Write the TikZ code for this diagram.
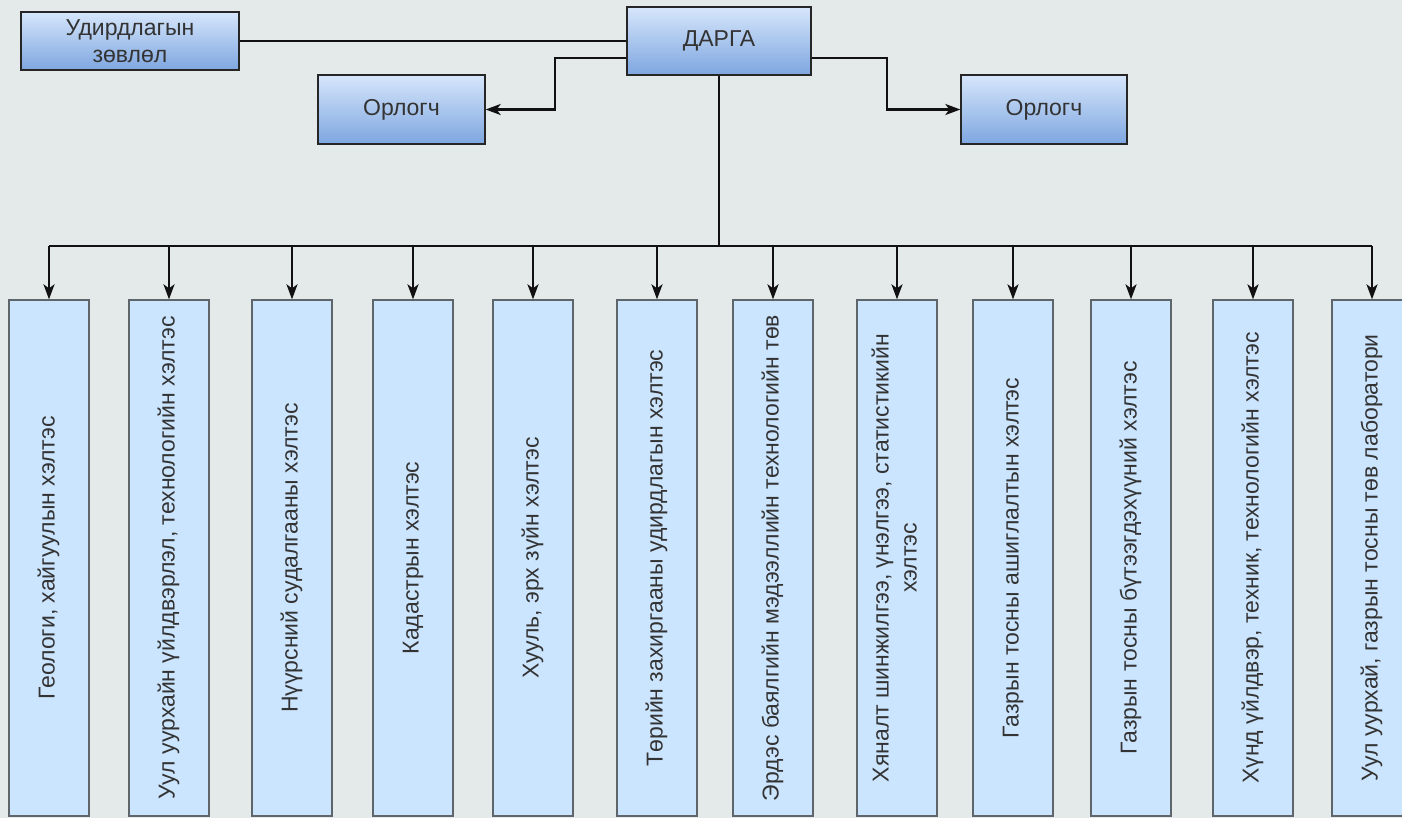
\documentclass[tikz,border=0pt]{standalone}
\usepackage{fontspec}
\setmainfont{Liberation Sans}
\usetikzlibrary{arrows.meta,calc}
\definecolor{bg}{HTML}{E4E9E9}
\definecolor{gtop}{HTML}{D6E6FB}
\definecolor{gbot}{HTML}{7EA6E0}
\definecolor{unitfill}{HTML}{CCE5FF}
\definecolor{unitdraw}{HTML}{5E666B}
\definecolor{txt}{HTML}{333333}
\definecolor{ln}{HTML}{111111}
\tikzset{
  topbox/.style={draw=black!85, line width=1.3pt, top color=gtop, bottom color=gbot,
    text=txt, align=center, inner sep=0pt, font=\fontsize{23}{27}\selectfont},
  unitbox/.style={draw=unitdraw, line width=1.3pt, fill=unitfill, text=txt,
    minimum width=80pt, minimum height=516pt, inner sep=0pt,
    font=\fontsize{23}{28}\selectfont},
  conn/.style={draw=ln, line width=2.2pt},
  arr/.style={conn, -{Stealth[length=15pt,width=11pt,inset=4pt]}}
}
\newcommand{\vtext}[1]{\rotatebox{90}{\begin{tabular}{@{}c@{}}#1\end{tabular}}}
\begin{document}
\begin{tikzpicture}[x=1pt,y=-1pt]
\useasboundingbox (0,0) rectangle (1402,818);
\clip (0,0) rectangle (1402,818);
\fill[bg] (0,0) rectangle (1402,818);

\node[topbox, minimum width=218pt, minimum height=58pt] (council) at (130,41) {Удирдлагын\\зөвлөл};
\node[topbox, minimum width=184pt, minimum height=68pt] (darga) at (719,41) {ДАРГА};
\node[topbox, minimum width=167pt, minimum height=69pt] (orl1) at (401.5,109.5) {Орлогч};
\node[topbox, minimum width=166pt, minimum height=69pt] (orl2) at (1044,109.5) {Орлогч};

\coordinate (bus) at (0,246);

\node[unitbox] (u1) at (49,558) {\vtext{Геологи, хайгуулын хэлтэс}};
\node[unitbox] (u2) at (169,558) {\vtext{Уул уурхайн үйлдвэрлэл, технологийн хэлтэс}};
\node[unitbox] (u3) at (292,558) {\vtext{Нүүрсний судалгааны хэлтэс}};
\node[unitbox] (u4) at (413,558) {\vtext{Кадастрын хэлтэс}};
\node[unitbox] (u5) at (533,558) {\vtext{Хууль, эрх зүйн хэлтэс}};
\node[unitbox] (u6) at (657,558) {\vtext{Төрийн захиргааны удирдлагын хэлтэс}};
\node[unitbox] (u7) at (773,558) {\vtext{Эрдэс баялгийн мэдээллийн технологийн төв}};
\node[unitbox] (u8) at (897,558) {\vtext{Хяналт шинжилгээ, үнэлгээ, статистикийн\\хэлтэс}};
\node[unitbox] (u9) at (1013,558) {\vtext{Газрын тосны ашиглалтын хэлтэс}};
\node[unitbox] (u10) at (1131,558) {\vtext{Газрын тосны бүтээгдэхүүний хэлтэс}};
\node[unitbox] (u11) at (1253,558) {\vtext{Хүнд үйлдвэр, техник, технологийн хэлтэс}};
\node[unitbox] (u12) at (1372,558) {\vtext{Уул уурхай, газрын тосны төв лаборатори}};

% connectors
\draw[conn] (council.east) -- (council.east -| darga.west);
\draw[arr] ($(darga.west)+(0,17)$) -- ++(-71,0) |- (orl1.east);
\draw[arr] ($(darga.east)+(0,17)$) -- ++(75,0) |- (orl2.west);
\draw[conn] (darga.south) -- (darga.south |- bus);
\draw[conn] (u1.north |- bus) -- (u12.north |- bus);
\foreach \i in {1,...,12}{
  \draw[arr] (u\i.north |- bus) -- (u\i.north);
}
\end{tikzpicture}
\end{document}
